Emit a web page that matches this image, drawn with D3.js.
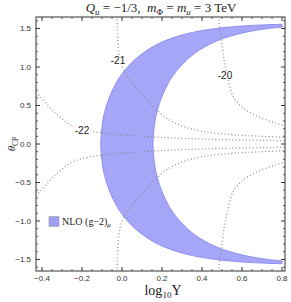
<!DOCTYPE html>
<head>
  <meta charset="utf-8">
  <script src="https://d3js.org/d3.v7.min.js"></script>
  <style>
    body { margin: 0; background: #fff; }
    svg { display: block; }
    .tick-label { font-family: "Liberation Sans", Arial, sans-serif; font-size: 8px; fill: #333; }
    .serif { font-family: "Liberation Serif", "Times New Roman", serif; fill: #222; }
    .clabel { font-family: "Liberation Sans", Arial, sans-serif; font-size: 10px; fill: #222; }
  </style>
</head>
<body>
<svg id="chart" width="291" height="302"></svg>
<script>
  // tick labels
  const xTicks = [-0.4, -0.2, 0.0, 0.2, 0.4, 0.6, 0.8];
  const yTicks = [-1.5, -1.0, -0.5, 0.0, 0.5, 1.0, 1.5];

  // NLO (g-2)_mu band, [log10Y, theta_CP]
  const bandOuter = [
    [0.8, -1.5554], [0.735, -1.55], [0.650, -1.54], [0.589, -1.53], [0.469, -1.5], [0.353, -1.45],
    [0.279, -1.4], [0.224, -1.35], [0.180, -1.3], [0.145, -1.25], [0.115, -1.2], [0.066, -1.1],
    [0.028, -1.0], [-0.003, -0.9], [-0.028, -0.8], [-0.064, -0.6], [-0.083, -0.45], [-0.096, -0.3],
    [-0.106, 0],
    [-0.096, 0.3], [-0.083, 0.45], [-0.064, 0.6], [-0.028, 0.8], [-0.003, 0.9], [0.028, 1.0],
    [0.066, 1.1], [0.115, 1.2], [0.145, 1.25], [0.180, 1.3], [0.224, 1.35], [0.279, 1.4],
    [0.353, 1.45], [0.469, 1.5], [0.589, 1.53], [0.650, 1.54], [0.735, 1.55], [0.8, 1.5554]
  ];
  const bandInner = [
    [0.8, 1.5195], [0.763, 1.51], [0.730, 1.5], [0.676, 1.48], [0.6145, 1.45], [0.540, 1.4],
    [0.485, 1.35], [0.441, 1.3], [0.406, 1.25], [0.375, 1.2], [0.327, 1.1], [0.289, 1.0],
    [0.258, 0.9], [0.2335, 0.8], [0.197, 0.6], [0.178, 0.45], [0.165, 0.3],
    [0.155, 0],
    [0.165, -0.3], [0.178, -0.45], [0.197, -0.6], [0.2335, -0.8], [0.258, -0.9], [0.289, -1.0],
    [0.327, -1.1], [0.375, -1.2], [0.406, -1.25], [0.441, -1.3], [0.485, -1.35], [0.540, -1.4],
    [0.6145, -1.45], [0.676, -1.48], [0.730, -1.5], [0.763, -1.51], [0.8, -1.5195]
  ];

  // dotted contours
  const c22Up = [[-0.43, 0.67], [-0.41, 0.62], [-0.36, 0.47], [-0.31, 0.35], [-0.26, 0.25], [-0.2, 0.19],
    [-0.11, 0.15], [0.0, 0.12], [0.2, 0.085], [0.4, 0.065], [0.6, 0.052], [0.82, 0.043]];
  const c22Down = [[-0.43, -0.67], [-0.41, -0.62], [-0.36, -0.47], [-0.31, -0.35], [-0.26, -0.25], [-0.2, -0.19],
    [-0.11, -0.15], [0.0, -0.12], [0.2, -0.085], [0.4, -0.065], [0.6, -0.052], [0.82, -0.043]];
  const c21Up = [[-0.025, 1.66], [-0.02, 1.3], [-0.01, 1.1], [0.01, 0.95], [0.04, 0.82], [0.08, 0.7],
    [0.12, 0.59], [0.16, 0.48], [0.22, 0.34], [0.3, 0.235], [0.4, 0.165], [0.55, 0.12], [0.7, 0.1], [0.82, 0.087]];
  const c21Down = [[-0.025, -1.66], [-0.02, -1.3], [-0.01, -1.1], [0.01, -0.95], [0.04, -0.82], [0.08, -0.7],
    [0.12, -0.59], [0.16, -0.48], [0.22, -0.34], [0.3, -0.235], [0.4, -0.165], [0.55, -0.12], [0.7, -0.1], [0.82, -0.087]];
  const c20Up = [[0.484, 1.66], [0.488, 1.5], [0.496, 1.36], [0.51, 1.1], [0.525, 0.9], [0.555, 0.62],
    [0.585, 0.52], [0.614, 0.45], [0.66, 0.38], [0.715, 0.32], [0.77, 0.27], [0.82, 0.236]];
  const c20Down = [[0.484, -1.66], [0.488, -1.5], [0.496, -1.36], [0.51, -1.1], [0.525, -0.9], [0.555, -0.62],
    [0.585, -0.52], [0.614, -0.45], [0.66, -0.38], [0.715, -0.32], [0.77, -0.27], [0.82, -0.236]];
  const contourLabels = [
    {text: "-22", x: -0.2, y: 0.18},
    {text: "-21", x: -0.02, y: 1.09},
    {text: "-20", x: 0.515, y: 0.89}
  ];

  const pl = 36, pr = 285, pt = 17, pb = 271;
  const svg = d3.select("#chart");

  const x = d3.scaleLinear().domain([-0.43, 0.815]).range([pl, pr]);
  const y = d3.scaleLinear().domain([-1.65, 1.65]).range([pb, pt]);
  const fmt = v => (v < 0 ? "\u2212" : "") + Math.abs(v).toFixed(1);

  svg.append("defs").append("clipPath").attr("id", "clip")
    .append("rect").attr("x", pl).attr("y", pt).attr("width", pr - pl).attr("height", pb - pt);

  const plot = svg.append("g").attr("clip-path", "url(#clip)");

  const curve = d3.line().x(d => x(d[0])).y(d => y(d[1])).curve(d3.curveCatmullRom);

  // band
  const bandPath = curve(bandOuter) + curve(bandInner).replace(/^M/, "L") + "Z";
  plot.append("path")
    .attr("d", bandPath)
    .attr("fill", "#a6a6f8")
    .attr("stroke", "#8e8ef2")
    .attr("stroke-width", 1);

  // contours
  [c22Up, c22Down, c21Up, c21Down, c20Up, c20Down].forEach(c => {
    plot.append("path")
      .attr("d", curve(c))
      .attr("fill", "none")
      .attr("stroke", "#8a8a8a")
      .attr("stroke-width", 1.2)
      .attr("stroke-dasharray", "1,2.4");
  });

  contourLabels.forEach(l => {
    const g = plot.append("g");
    const t = g.append("text")
      .attr("class", "clabel")
      .attr("x", x(l.x)).attr("y", y(l.y))
      .attr("text-anchor", "middle")
      .attr("dy", "0.35em")
      .text(l.text);
    const bb = t.node().getBBox();
    g.insert("rect", "text")
      .attr("x", bb.x - 1).attr("y", bb.y + 1)
      .attr("width", bb.width + 2).attr("height", bb.height - 2)
      .attr("fill", "#fff");
  });

  // frame + ticks
  const frame = svg.append("g");
  frame.append("rect")
    .attr("x", pl).attr("y", pt).attr("width", pr - pl).attr("height", pb - pt)
    .attr("fill", "none").attr("stroke", "#333").attr("stroke-width", 1);

  const xMinor = d3.range(-0.4, 0.801, 0.05).filter(v => !xTicks.some(t => Math.abs(t - v) < 1e-6));
  const yMinor = d3.range(-1.6, 1.601, 0.1).filter(v => !yTicks.some(t => Math.abs(t - v) < 1e-6));

  xTicks.forEach(v => {
    frame.append("line").attr("x1", x(v)).attr("x2", x(v)).attr("y1", pb).attr("y2", pb - 4).attr("stroke", "#333");
    frame.append("line").attr("x1", x(v)).attr("x2", x(v)).attr("y1", pt).attr("y2", pt + 4).attr("stroke", "#333");
    frame.append("text").attr("class", "tick-label")
      .attr("x", x(v)).attr("y", pb + 10).attr("text-anchor", "middle")
      .text(fmt(v));
  });
  xMinor.forEach(v => {
    frame.append("line").attr("x1", x(v)).attr("x2", x(v)).attr("y1", pb).attr("y2", pb - 2).attr("stroke", "#555");
    frame.append("line").attr("x1", x(v)).attr("x2", x(v)).attr("y1", pt).attr("y2", pt + 2).attr("stroke", "#555");
  });
  yTicks.forEach(v => {
    frame.append("line").attr("y1", y(v)).attr("y2", y(v)).attr("x1", pl).attr("x2", pl + 4).attr("stroke", "#333");
    frame.append("line").attr("y1", y(v)).attr("y2", y(v)).attr("x1", pr).attr("x2", pr - 4).attr("stroke", "#333");
    frame.append("text").attr("class", "tick-label")
      .attr("x", pl - 5).attr("y", y(v)).attr("dy", "0.35em").attr("text-anchor", "end")
      .text(fmt(v));
  });
  yMinor.forEach(v => {
    frame.append("line").attr("y1", y(v)).attr("y2", y(v)).attr("x1", pl).attr("x2", pl + 2).attr("stroke", "#555");
    frame.append("line").attr("y1", y(v)).attr("y2", y(v)).attr("x1", pr).attr("x2", pr - 2).attr("stroke", "#555");
  });

  // title
  const title = svg.append("text").attr("class", "serif")
    .attr("x", 161).attr("y", 12).attr("text-anchor", "middle").attr("font-size", 13);
  title.append("tspan").attr("font-style", "italic").text("Q");
  title.append("tspan").attr("font-style", "italic").attr("font-size", 9).attr("dy", 2.5).text("u");
  title.append("tspan").attr("dy", -2.5).text("\u00a0= \u22121/3,\u00a0\u00a0");
  title.append("tspan").attr("font-style", "italic").text("m");
  title.append("tspan").attr("font-size", 9).attr("dy", 2.5).text("\u03a6");
  title.append("tspan").attr("dy", -2.5).text("\u00a0= ");
  title.append("tspan").attr("font-style", "italic").text("m");
  title.append("tspan").attr("font-style", "italic").attr("font-size", 9).attr("dy", 2.5).text("u");
  title.append("tspan").attr("dy", -2.5).text("\u00a0= 3 TeV");

  // x axis title
  const xt = svg.append("text").attr("class", "serif")
    .attr("x", 163).attr("y", 295).attr("text-anchor", "middle").attr("font-size", 14);
  xt.append("tspan").text("log");
  xt.append("tspan").attr("font-size", 9).attr("dy", 3).text("10");
  xt.append("tspan").attr("dy", -3).text("Y");

  // y axis title
  const yt = svg.append("text").attr("class", "serif")
    .attr("transform", `translate(15,${y(0)}) rotate(-90)`).attr("text-anchor", "middle").attr("font-size", 11);
  yt.append("tspan").attr("font-style", "italic").text("\u03b8");
  yt.append("tspan").attr("font-size", 7.5).attr("dy", 2.5).text("CP");

  // legend
  svg.append("rect").attr("x", 49).attr("y", 216.5).attr("width", 10).attr("height", 10)
    .attr("fill", "#9d9df6").attr("stroke", "#aaa").attr("stroke-width", 0.8);
  const lg = svg.append("text").attr("class", "serif")
    .attr("x", 62).attr("y", 225).attr("font-size", 10);
  lg.append("tspan").text("NLO (g\u22122)");
  lg.append("tspan").attr("font-size", 7).attr("dy", 2).attr("font-style", "italic").text("\u03bc");
</script>
</body>
